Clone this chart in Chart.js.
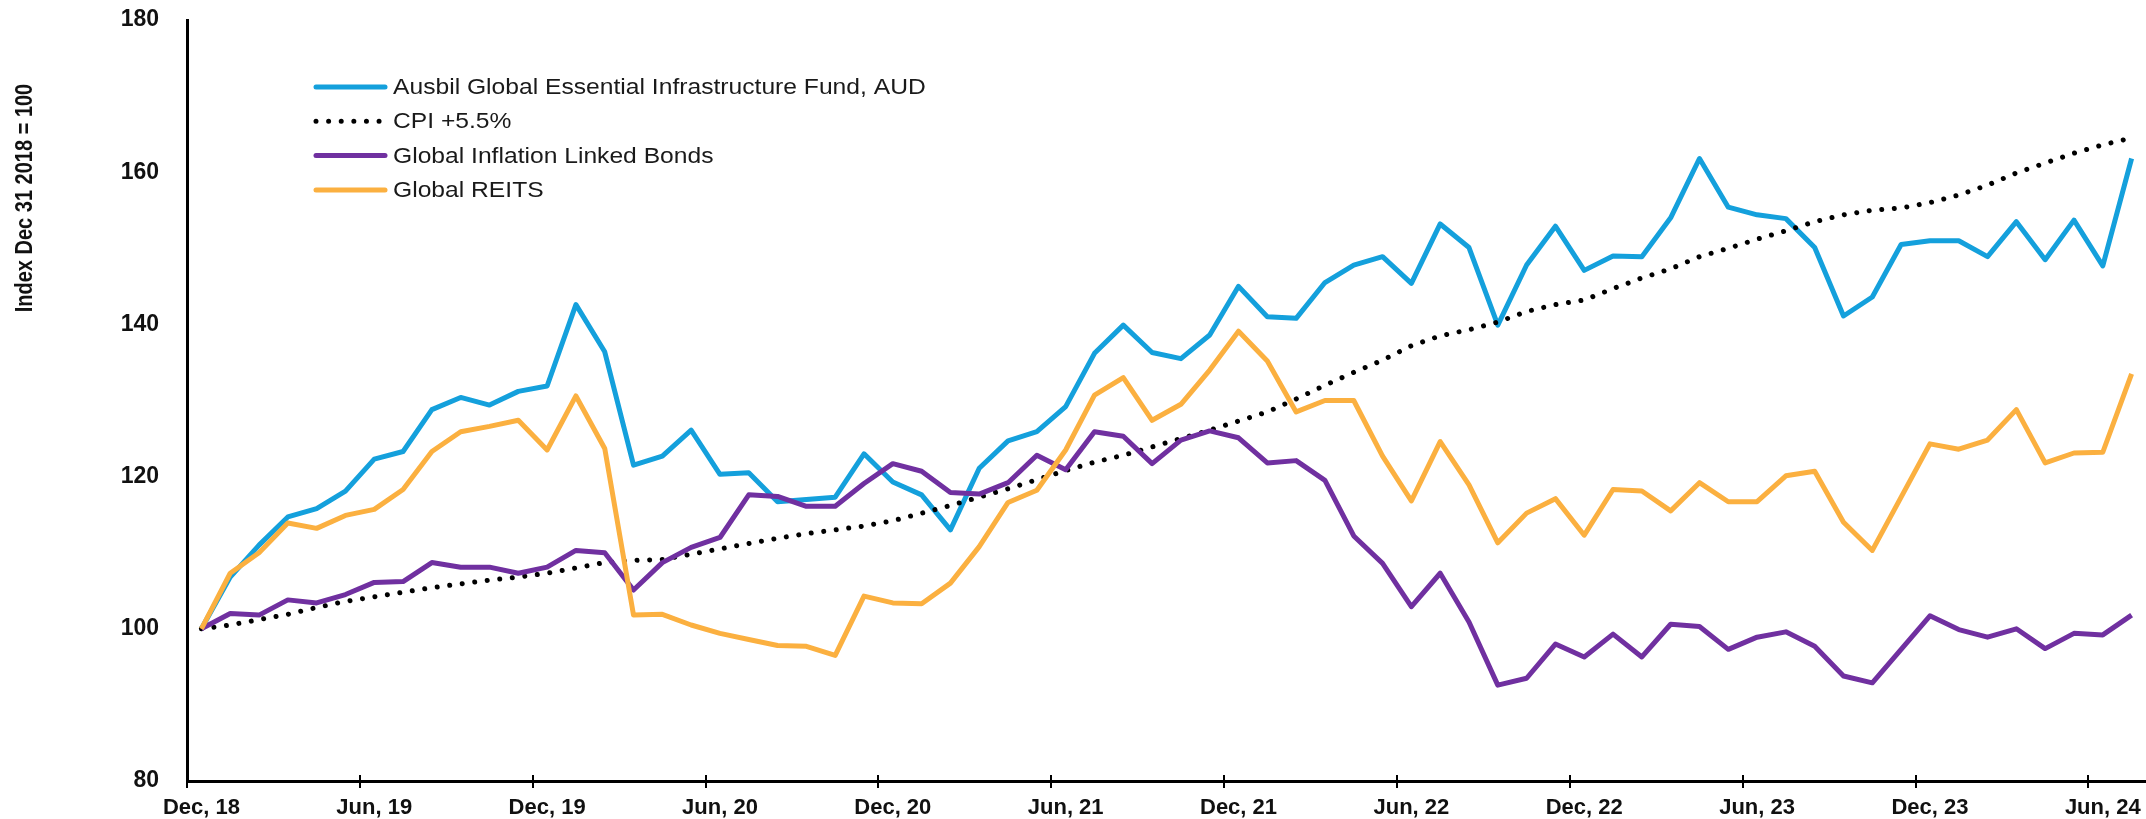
<!DOCTYPE html>
<html>
<head>
<meta charset="utf-8">
<title>Ausbil Global Essential Infrastructure Fund vs benchmarks</title>
<script src="https://cdn.jsdelivr.net/npm/chart.js@4.4.1/dist/chart.umd.min.js"></script>
<style>
  html, body { margin: 0; padding: 0; background: #fff; }
  #wrap { width: 2146px; height: 819px; }
</style>
</head>
<body>
<div id="wrap"><canvas id="perfChart" width="2146" height="819"></canvas></div>
<script>
// month-end points, Dec 18 .. Jul 24
const monthNames = ['Jan', 'Feb', 'Mar', 'Apr', 'May', 'Jun', 'Jul', 'Aug', 'Sep', 'Oct', 'Nov', 'Dec'];
const categories = [];
let yy = 18, mm = 11;
for (let i = 0; i < 68; i++) {
  categories.push(monthNames[mm] + ', ' + yy);
  mm++;
  if (mm === 12) { mm = 0; yy++; }
}

// only these get a label and a tick mark
const tickLabels = ['Dec, 18', 'Jun, 19', 'Dec, 19', 'Jun, 20', 'Dec, 20', 'Jun, 21',
  'Dec, 21', 'Jun, 22', 'Dec, 22', 'Jun, 23', 'Dec, 23', 'Jun, 24'];
const yTicks = [80, 100, 120, 140, 160, 180];

const seriesNames = [
  'Ausbil Global Essential Infrastructure Fund, AUD',
  'CPI +5.5%',
  'Global Inflation Linked Bonds',
  'Global REITS'
];

const fundValues = [
  100, 106.8, 111.0, 114.7, 115.8, 118.1, 122.3, 123.3, 128.8, 130.4, 129.4, 131.2,
  131.9, 142.6, 136.4, 121.5, 122.7, 126.1, 120.3, 120.5, 116.7, 117.0, 117.3, 123.0,
  119.3, 117.6, 113.0, 121.1, 124.7, 125.9, 129.2, 136.2, 139.9, 136.3, 135.5, 138.6,
  145.0, 141.0, 140.8, 145.5, 147.8, 148.9, 145.4, 153.2, 150.1, 139.9, 147.8, 152.9,
  147.1, 149.0, 148.9, 154.0, 161.8, 155.4, 154.4, 153.9, 150.1, 141.1, 143.6, 150.5,
  151.0, 151.0, 148.9, 153.5, 148.5, 153.7, 147.7, 161.8
];

const cpiValues = [
  100, 100.5, 101.2, 101.9, 102.8, 103.6, 104.2, 104.8, 105.4, 105.9, 106.4, 106.8,
  107.3, 108.0, 108.7, 109.0, 109.1, 109.8, 110.5, 111.2, 111.9, 112.5, 113.0, 113.5,
  114.2, 115.2, 116.2, 117.3, 118.4, 119.6, 120.8, 121.9, 122.8, 123.9, 125.0, 126.1,
  127.3, 128.5, 130.2, 132.0, 133.7, 135.3, 137.2, 138.5, 139.3, 140.3, 141.7, 142.6,
  143.2, 144.7, 146.1, 147.3, 148.9, 150.0, 151.2, 152.3, 153.5, 154.4, 155.0, 155.3,
  156.0, 157.0, 158.3, 159.9, 161.2, 162.5, 163.6, 164.5
];

const bondValues = [
  100, 102.0, 101.8, 103.8, 103.4, 104.5, 106.1, 106.2, 108.7, 108.1, 108.1, 107.3,
  108.1, 110.3, 110.0, 105.1, 108.7, 110.7, 112.0, 117.6, 117.4, 116.1, 116.1, 119.1,
  121.7, 120.7, 117.9, 117.7, 119.2, 122.8, 120.9, 125.9, 125.3, 121.7, 124.8, 126.0,
  125.1, 121.8, 122.1, 119.5, 112.2, 108.6, 102.9, 107.3, 100.9, 92.6, 93.5, 98.0,
  96.3, 99.3, 96.3, 100.6, 100.3, 97.3, 98.9, 99.6, 97.7, 93.8, 92.9, 97.3,
  101.7, 99.9, 98.9, 100.0, 97.4, 99.4, 99.2, 101.8
];

const reitValues = [
  100, 107.3, 110.0, 113.9, 113.2, 114.9, 115.7, 118.3, 123.3, 125.9, 126.6, 127.4,
  123.5, 130.6, 123.7, 101.8, 101.9, 100.5, 99.4, 98.6, 97.8, 97.7, 96.5, 104.3,
  103.4, 103.3, 106.0, 110.8, 116.6, 118.2, 123.5, 130.7, 133.0, 127.4, 129.5, 134.0,
  139.1, 135.2, 128.5, 130.0, 130.0, 122.7, 116.8, 124.6, 118.9, 111.3, 115.2, 117.1,
  112.3, 118.3, 118.1, 115.5, 119.2, 116.7, 116.7, 120.1, 120.7, 114.0, 110.3, 117.3,
  124.3, 123.6, 124.8, 128.8, 121.8, 123.1, 123.2, 133.5
];

const yTitle = 'Index Dec 31 2018 = 100';

// legend sits inside the plot, top left; y title drawn near the top;
// x tick marks also poke up a little above the axis line
const extras = {
  id: 'extras',
  afterDraw(chart) {
    const c = chart.ctx;
    const xs = chart.scales.x;
    c.save();

    const half = (xs.getPixelForTick(1) - xs.getPixelForTick(0)) / 2;
    c.strokeStyle = '#000';
    c.lineWidth = 2;
    categories.forEach((lab, i) => {
      if (!tickLabels.includes(lab)) return;
      const x = Math.round(xs.getPixelForTick(i) - half);
      c.beginPath();
      c.moveTo(x, xs.top - 6);
      c.lineTo(x, xs.top);
      c.stroke();
    });

    chart.data.datasets.forEach((ds, k) => {
      const y = 87 + k * 34.3;
      c.strokeStyle = ds.borderColor;
      c.lineWidth = 5;
      c.lineCap = 'round';
      c.setLineDash(ds.borderDash || []);
      c.beginPath();
      c.moveTo(316, y);
      c.lineTo(385, y);
      c.stroke();
      c.setLineDash([]);
      c.save();
      c.translate(393, y + 1);
      c.scale(1.12, 1);
      c.fillStyle = '#1a1a1a';
      c.font = '22px "Liberation Sans", Arial, sans-serif';
      c.textBaseline = 'middle';
      c.textAlign = 'left';
      c.fillText(ds.label, 0, 0);
      c.restore();
    });

    c.translate(26, 198);
    c.rotate(-Math.PI / 2);
    c.scale(1, 1.15);
    c.font = 'bold 20px "Liberation Sans", Arial, sans-serif';
    c.textAlign = 'center';
    c.textBaseline = 'middle';
    c.fillStyle = '#111';
    c.fillText(yTitle, 0, 0);
    c.restore();
  }
};

const ctx = document.getElementById('perfChart').getContext('2d');

new Chart(ctx, {
  type: 'line',
  data: {
    labels: categories,
    datasets: [
      { label: seriesNames[0], data: fundValues, borderColor: '#14a0dc', order: 4 },
      { label: seriesNames[1], data: cpiValues, borderColor: '#000000', borderDash: [0.01, 12.6], borderCapStyle: 'round', order: 3 },
      { label: seriesNames[2], data: bondValues, borderColor: '#7030a0', order: 2 },
      { label: seriesNames[3], data: reitValues, borderColor: '#fbb040', order: 1 }
    ]
  },
  options: {
    responsive: false,
    animation: false,
    layout: { padding: { top: 20, right: 0, bottom: 0, left: 0 } },
    elements: {
      point: { radius: 0 },
      line: { tension: 0, borderWidth: 5, borderJoinStyle: 'round', fill: false }
    },
    plugins: {
      legend: { display: false },
      tooltip: { enabled: false }
    },
    scales: {
      x: {
        type: 'category',
        offset: true,
        grid: {
          offset: true,
          drawOnChartArea: false,
          drawTicks: true,
          tickLength: 7,
          lineWidth: 2,
          color: (c) => tickLabels.includes(categories[c.index]) ? '#000' : 'rgba(0,0,0,0)'
        },
        border: { display: true, color: '#000', width: 3 },
        ticks: {
          autoSkip: false,
          maxRotation: 0,
          minRotation: 0,
          padding: 7,
          color: '#111',
          font: { family: '"Liberation Sans", Arial, sans-serif', size: 22, weight: 'bold' },
          callback: (v, i) => tickLabels.includes(categories[i]) ? categories[i] : ''
        },
        afterFit: (s) => { s.height = 38; s.paddingLeft = 0; s.paddingRight = 0; }
      },
      y: {
        min: yTicks[0],
        max: yTicks[yTicks.length - 1],
        grid: { display: false, drawTicks: false },
        border: { display: true, color: '#000', width: 3 },
        ticks: {
          stepSize: 20,
          padding: 28,
          color: '#111',
          font: { family: '"Liberation Sans", Arial, sans-serif', size: 23, weight: 'bold' }
        },
        afterFit: (s) => { s.width = 187; s.paddingTop = 0; s.paddingBottom = 0; }
      }
    }
  },
  plugins: [extras]
});
</script>
</body>
</html>
